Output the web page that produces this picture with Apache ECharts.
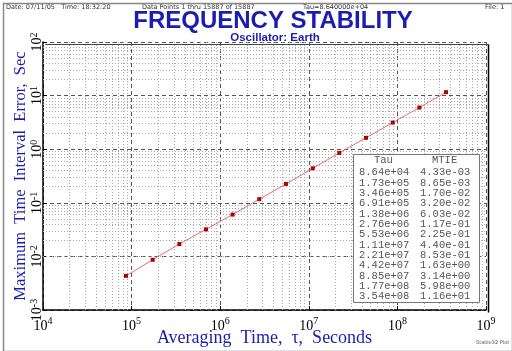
<!DOCTYPE html>
<html lang="en">
<head>
    <meta charset="UTF-8">
    <title>Frequency Stability</title>
    <script src="https://cdn.jsdelivr.net/npm/echarts@6.0.0/dist/echarts.min.js"></script>
</head>
<body style="margin:0">
    <div id="main" style="width:512px;height:351px;"></div>
    <script type="text/javascript">
        const tau = [8.64e4, 1.73e5, 3.46e5, 6.91e5, 1.38e6, 2.76e6, 5.53e6, 1.11e7, 2.21e7, 4.42e7, 8.85e7, 1.77e8, 3.54e8];
        const mtie = [4.33e-3, 8.65e-3, 1.70e-2, 3.20e-2, 6.03e-2, 1.17e-1, 2.25e-1, 4.40e-1, 8.53e-1, 1.63e0, 3.14e0, 5.98e0, 1.16e1];
        const xDecades = [4, 5, 6, 7, 8, 9];
        const yDecades = [-3, -2, -1, 0, 1, 2];

        const blue = '#1c1cb0';
        const serif = '"Liberation Serif", "DejaVu Serif", serif';
        const mono = '"Liberation Mono", "DejaVu Sans Mono", monospace';
        const small = '6.5px "DejaVu Sans", sans-serif';

        // minor grid lines at 2..9 times each decade
        function minorLines(decades, dim) {
            let out = [];
            for (let i = 0; i < decades.length - 1; i++) {
                for (let m = 2; m <= 9; m++) {
                    let o = {};
                    o[dim] = m * Math.pow(10, decades[i]);
                    out.push(o);
                }
            }
            return out;
        }

        function sci(v) {
            let parts = v.toExponential(2).split('e');
            let e = parseInt(parts[1], 10);
            let a = Math.abs(e);
            return parts[0] + 'e' + (e < 0 ? '-' : '+') + (a < 10 ? '0' + a : a);
        }

        function powLabel(v) {
            return '10{sup|' + Math.round(Math.log10(v)) + '}';
        }

        let tauCol = tau.map(sci).join('\n');
        let mtieCol = mtie.map(sci).join('\n');

        let xRich = {
            sup: { fontSize: 10, verticalAlign: 'top', padding: [0, 0, 10, 0], fontFamily: serif, color: '#000' }
        };
        let yRich = {
            sup: { fontSize: 10, verticalAlign: 'top', padding: [0, 0, 6, 0], fontFamily: serif, color: '#000' }
        };

        let myChart = echarts.init(document.getElementById('main'));

        let options = {
            backgroundColor: '#fff',
            animation: false,
            title: [
                {
                    text: 'FREQUENCY STABILITY',
                    left: 268, top: 4, textAlign: 'center',
                    textStyle: { color: blue, fontSize: 24, fontWeight: 'bold', fontFamily: '"Liberation Sans", Arial, sans-serif' }
                },
                {
                    text: 'Oscillator: Earth',
                    left: 270, top: 27, textAlign: 'center',
                    textStyle: { color: blue, fontSize: 11.5, fontWeight: 'bold', fontFamily: '"Liberation Sans", Arial, sans-serif' }
                }
            ],
            grid: { left: 43, right: 26, top: 42, bottom: 41, outerBoundsMode: 'none', containLabel: false },
            xAxis: {
                type: 'log',
                logBase: 10,
                min: 1e4,
                max: 1e9,
                name: 'Averaging  Time,  τ,  Seconds',
                nameLocation: 'middle',
                nameGap: 19,
                nameMoveOverlap: false,
                nameTextStyle: { color: blue, fontSize: 18, fontFamily: serif },
                axisLine: { lineStyle: { color: '#000', width: 1.5 } },
                axisTick: { inside: true, length: 4, lineStyle: { color: '#000' } },
                axisLabel: {
                    formatter: powLabel, rich: xRich,
                    color: '#000', fontSize: 14, fontFamily: serif, margin: 6
                },
                splitLine: { show: true, lineStyle: { color: '#555', type: [4, 3], width: 1 } }
            },
            yAxis: {
                type: 'log',
                logBase: 10,
                min: 1e-3,
                max: 1e2,
                name: 'Maximum  Time  Interval  Error,  Sec',
                nameLocation: 'middle',
                nameGap: 14,
                nameMoveOverlap: false,
                nameTextStyle: { color: blue, fontSize: 16.5, fontFamily: serif },
                axisLine: { lineStyle: { color: '#000', width: 1.5 } },
                axisTick: { inside: true, length: 4, lineStyle: { color: '#000' } },
                axisLabel: {
                    formatter: powLabel, rich: yRich, rotate: 90,
                    color: '#000', fontSize: 14, fontFamily: serif, margin: -2
                },
                splitLine: { show: true, lineStyle: { color: '#555', type: [4, 3], width: 1 } }
            },
            series: [
                {
                    type: 'line',
                    data: tau.map((t, i) => [t, mtie[i]]),
                    symbol: 'rect',
                    symbolSize: 4,
                    itemStyle: { color: '#b00000' },
                    lineStyle: { color: '#e07070', width: 1 },
                    z: 5,
                    markLine: {
                        silent: true,
                        symbol: 'none',
                        label: { show: false },
                        lineStyle: { color: '#aaa', type: [1, 2], width: 1 },
                        data: minorLines(xDecades, 'xAxis').concat(minorLines(yDecades, 'yAxis'))
                    }
                }
            ],
            graphic: [
                {
                    type: 'rect', left: 1, top: 1,
                    shape: { width: 509, height: 348 },
                    style: { fill: null, stroke: '#888', lineWidth: 1.5 }, z: 100
                },
                {
                    type: 'rect', left: 486, top: 42,
                    shape: { width: 0, height: 268 },
                    style: { fill: null, stroke: '#000', lineWidth: 1.5 }, z: 100
                },
                {
                    type: 'rect', left: 43, top: 42,
                    shape: { width: 443, height: 0 },
                    style: { fill: null, stroke: '#444', lineWidth: 1 }, z: 100
                },
                { type: 'text', left: 6, top: 4, style: { text: 'Date: 07/11/05   Time: 18:32:20', fill: '#333', font: small } },
                { type: 'text', left: 142, top: 4, style: { text: 'Data Points 1 thru 15887 of 15887', fill: '#333', font: small } },
                { type: 'text', left: 303, top: 4, style: { text: 'Tau=8.640000e+04', fill: '#333', font: small } },
                { type: 'text', left: 485, top: 4, style: { text: 'File: 1', fill: '#333', font: small } },
                { type: 'text', left: 476, top: 340, style: { text: 'Stable32 Plot', fill: '#555', font: '5px "DejaVu Sans", sans-serif' } },
                {
                    type: 'rect', left: 353, top: 154,
                    shape: { width: 126, height: 148 },
                    style: { fill: '#fff', stroke: '#777', lineWidth: 1 }, z: 50
                },
                {
                    type: 'text', left: 374, top: 155, z: 51,
                    style: { text: 'Tau', fill: '#555', font: '10.5px ' + mono }
                },
                {
                    type: 'text', left: 432, top: 155, z: 51,
                    style: { text: 'MTIE', fill: '#555', font: '10.5px ' + mono }
                },
                {
                    type: 'text', left: 359, top: 167, z: 51,
                    style: { text: tauCol, fill: '#555', font: '10.5px ' + mono, lineHeight: 10.33 }
                },
                {
                    type: 'text', left: 420, top: 167, z: 51,
                    style: { text: mtieCol, fill: '#555', font: '10.5px ' + mono, lineHeight: 10.33 }
                }
            ]
        };

        myChart.setOption(options);
    </script>
</body>
</html>
